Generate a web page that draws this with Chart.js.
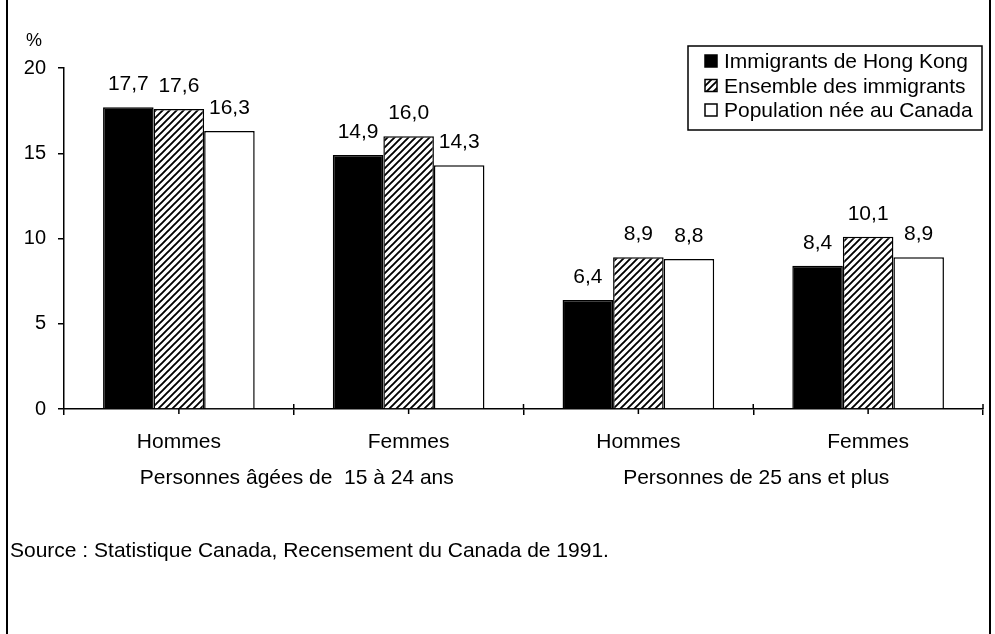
<!DOCTYPE html>
<html>
<head>
<meta charset="utf-8">
<script src="https://cdn.jsdelivr.net/npm/chart.js@4.4.1/dist/chart.umd.min.js"></script>
<style>
  html, body { margin: 0; padding: 0; background: #fff; }
  #wrap { width: 995px; height: 634px; position: relative; }
</style>
</head>
<body>
<div id="wrap"><canvas id="graphique" width="995" height="634"></canvas></div>
<script>
// Données du graphique
const categories = ['Hommes', 'Femmes', 'Hommes', 'Femmes'];
const groupLabels = ['Personnes âgées de  15 à 24 ans', 'Personnes de 25 ans et plus'];
const seriesNames = ['Immigrants de Hong Kong', 'Ensemble des immigrants', 'Population née au Canada'];
const hongKong = [17.7, 14.9, 6.4, 8.4];
const ensemble = [17.6, 16.0, 8.9, 10.1];
const neeCanada = [16.3, 14.3, 8.8, 8.9];
const yTicks = [0, 5, 10, 15, 20];
const yUnit = '%';
const sourceText = 'Source : Statistique Canada, Recensement du Canada de 1991.';

const POLICE = '"Liberation Sans", Arial, Helvetica, sans-serif';

// Motif hachuré "////"
function motifHachures() {
    const c = document.createElement('canvas');
    c.width = 7;
    c.height = 7;
    const g = c.getContext('2d');
    g.fillStyle = '#fff';
    g.fillRect(0, 0, 7, 7);
    g.strokeStyle = '#000';
    g.lineWidth = 1.9;
    g.beginPath();
    g.moveTo(-2, 9); g.lineTo(9, -2);
    g.moveTo(-2, 2); g.lineTo(2, -2);
    g.moveTo(5, 9); g.lineTo(9, 5);
    g.stroke();
    return g.createPattern(c, 'repeat');
}
const hachures = motifHachures();

// Cadre gauche / droit de la figure
const cadre = {
    id: 'cadre',
    beforeDraw(chart) {
        const ctx = chart.ctx;
        ctx.save();
        ctx.fillStyle = '#fff';
        ctx.fillRect(0, 0, chart.width, chart.height);
        ctx.strokeStyle = '#000';
        ctx.lineWidth = 2;
        ctx.beginPath();
        ctx.moveTo(7, 0); ctx.lineTo(7, chart.height);
        ctx.moveTo(990, 0); ctx.lineTo(990, chart.height);
        ctx.stroke();
        ctx.restore();
    }
};

// Étiquettes, légende, textes supplémentaires
const decor = {
    id: 'decor',
    afterDraw(chart) {
        const ctx = chart.ctx;
        const area = chart.chartArea;
        const xs = chart.scales.x;
        ctx.save();
        ctx.fillStyle = '#000';
        ctx.strokeStyle = '#000';

        // petites graduations de l'axe x
        ctx.lineWidth = 1.5;
        ctx.beginPath();
        for (let i = 0; i < categories.length; i++) {
            const x = xs.getPixelForValue(i);
            ctx.moveTo(x, area.bottom); ctx.lineTo(x, area.bottom + 5);
            const b = x + (xs.getPixelForValue(1) - xs.getPixelForValue(0)) / 2;
            ctx.moveTo(b, area.bottom - 5); ctx.lineTo(b, area.bottom);
        }
        ctx.stroke();

        // valeurs au-dessus des barres
        ctx.font = '21px ' + POLICE;
        ctx.textAlign = 'center';
        ctx.textBaseline = 'alphabetic';
        chart.data.datasets.forEach((ds, di) => {
            const meta = chart.getDatasetMeta(di);
            meta.data.forEach((bar, i) => {
                const txt = ds.data[i].toFixed(1).replace('.', ',');
                ctx.fillText(txt, bar.x, bar.y - 17);
            });
        });

        // unité
        ctx.font = '18px ' + POLICE;
        ctx.textAlign = 'left';
        ctx.textBaseline = 'middle';
        ctx.fillText(yUnit, 26, 41);

        // libellés de groupe
        ctx.font = '21px ' + POLICE;
        ctx.textAlign = 'center';
        groupLabels.forEach((lbl, g) => {
            const x = (xs.getPixelForValue(g * 2) + xs.getPixelForValue(g * 2 + 1)) / 2;
            ctx.fillText(lbl, x + 3, area.bottom + 69);
        });

        // source
        ctx.textAlign = 'left';
        ctx.fillText(sourceText, 10, area.bottom + 142);

        // légende encadrée
        const lx = 688, ly = 46, lw = 294, lh = 84;
        ctx.fillStyle = '#fff';
        ctx.fillRect(lx, ly, lw, lh);
        ctx.lineWidth = 1.5;
        ctx.strokeRect(lx, ly, lw, lh);
        ctx.font = '21px ' + POLICE;
        ctx.textBaseline = 'alphabetic';
        chart.data.datasets.forEach((ds, di) => {
            const base = 68 + di * 24.5;
            ctx.fillStyle = ds.backgroundColor;
            ctx.fillRect(705, base - 13, 12, 12);
            ctx.lineWidth = 1.5;
            ctx.strokeRect(705, base - 13, 12, 12);
            ctx.fillStyle = '#000';
            ctx.fillText(ds.label, 724, base);
        });
        ctx.restore();
    }
};

new Chart(document.getElementById('graphique'), {
    type: 'bar',
    data: {
        labels: categories,
        datasets: [
            { label: seriesNames[0], data: hongKong, backgroundColor: '#000', borderColor: '#000', borderWidth: 1.5 },
            { label: seriesNames[1], data: ensemble, backgroundColor: hachures, borderColor: '#000', borderWidth: 1.5 },
            { label: seriesNames[2], data: neeCanada, backgroundColor: '#fff', borderColor: '#000', borderWidth: 1.5 }
        ]
    },
    options: {
        responsive: false,
        animation: false,
        devicePixelRatio: 1,
        categoryPercentage: 0.66,
        barPercentage: 1.0,
        layout: { padding: { top: 68, right: 12, bottom: 0, left: 0 } },
        plugins: {
            legend: { display: false },
            tooltip: { enabled: false }
        },
        scales: {
            x: {
                offset: true,
                grid: { offset: true, drawOnChartArea: false, tickLength: 6, color: '#000', lineWidth: 1.5 },
                border: { display: true, color: '#000', width: 1.5 },
                ticks: { color: '#000', font: { family: POLICE, size: 21 }, padding: 15 },
                afterFit(scale) { scale.height = 225; }
            },
            y: {
                min: 0,
                max: 20,
                afterBuildTicks(scale) { scale.ticks = yTicks.map(v => ({ value: v })); },
                grid: { drawOnChartArea: false, tickLength: 6, color: '#000', lineWidth: 1.5 },
                border: { display: true, color: '#000', width: 1.5 },
                ticks: { color: '#000', font: { family: POLICE, size: 20 }, padding: 12 },
                afterFit(scale) { scale.width = 64; }
            }
        }
    },
    plugins: [cadre, decor]
});
</script>
</body>
</html>
